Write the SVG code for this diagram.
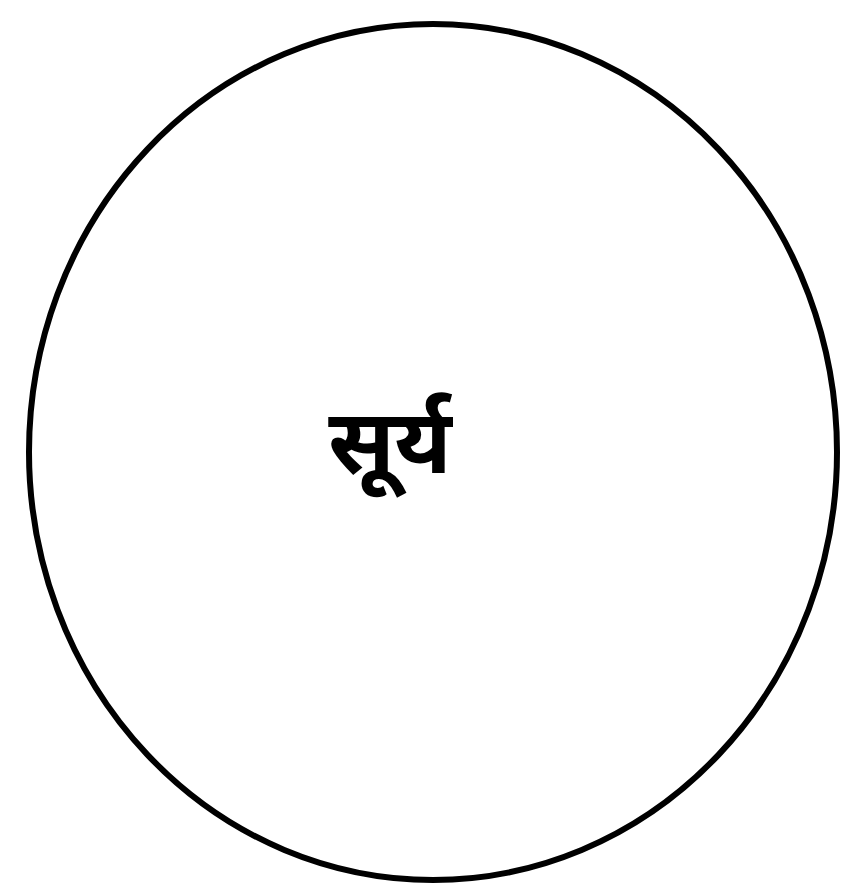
<svg xmlns="http://www.w3.org/2000/svg" width="841" height="893" viewBox="0 0 841 893">
<style>
.outline{fill:none;stroke:#000;stroke-width:6}
.label{font-family:"Noto Sans Devanagari","Noto Sans","DejaVu Sans",sans-serif;font-size:90px;font-weight:bold;fill:#000;text-anchor:middle}
</style>
<rect width="841" height="893" fill="#fff"/>
<g id="sun">
<ellipse class="outline" cx="433" cy="452" rx="404" ry="428"/>
<text class="label" x="390" y="473">सूर्य</text>
</g>
</svg>
